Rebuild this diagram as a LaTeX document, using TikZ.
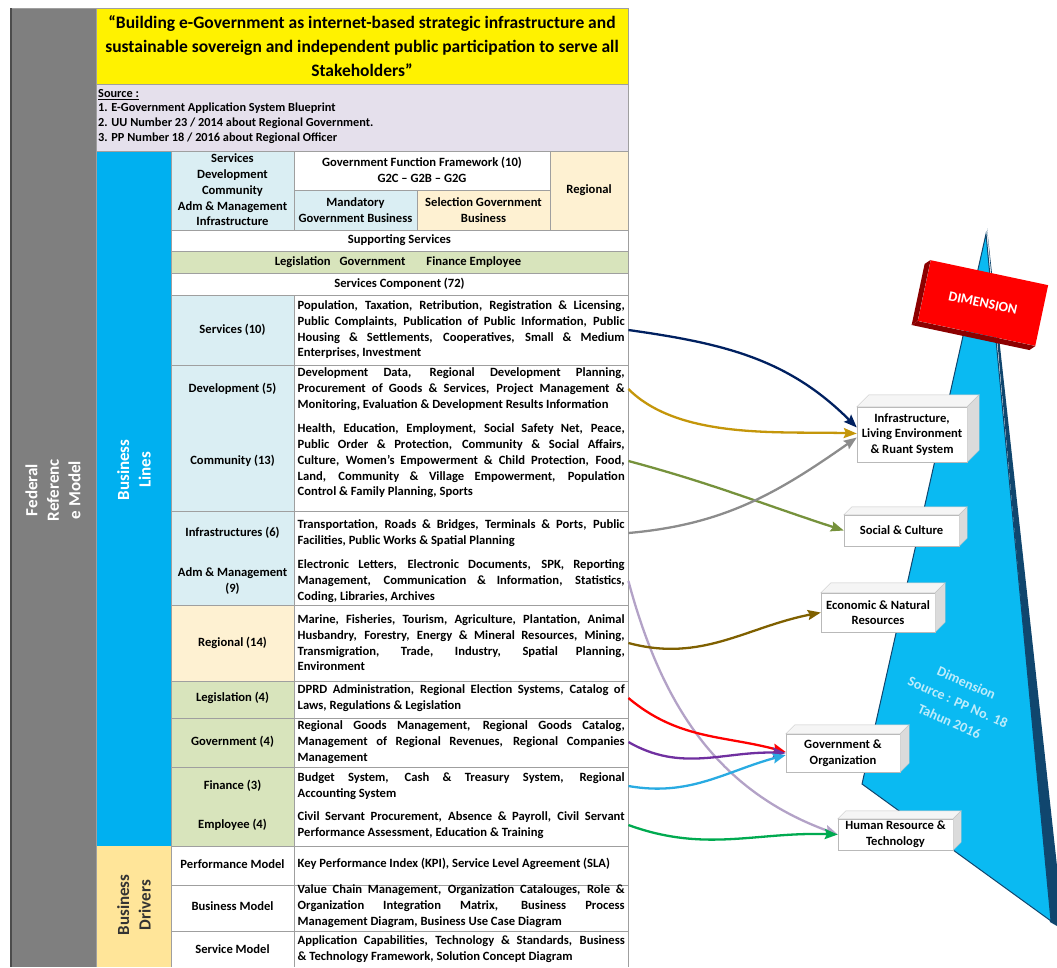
\documentclass[tikz,border=0pt]{standalone}
\usepackage{fontspec}
\setmainfont{Carlito}
\usetikzlibrary{positioning, arrows.meta}
\definecolor{frmgray}{RGB}{127,127,127}
\definecolor{lineblue}{RGB}{0,176,240}
\definecolor{drvgold}{RGB}{255,229,153}
\definecolor{cellblue}{RGB}{218,238,243}
\definecolor{cellcream}{RGB}{254,241,210}
\definecolor{cellgreen}{RGB}{216,228,188}
\definecolor{srclav}{RGB}{229,224,236}
\definecolor{pyrblue}{RGB}{10,186,242}
\definecolor{pyrdark}{RGB}{16,70,110}
\definecolor{pyrtext}{RGB}{190,236,251}
\definecolor{dimdark}{RGB}{140,0,0}
\definecolor{cnavy}{RGB}{0,32,96}
\definecolor{cgold}{RGB}{196,150,10}
\definecolor{colive}{RGB}{118,146,60}
\definecolor{cgray}{RGB}{140,140,140}
\definecolor{clav}{RGB}{179,162,199}
\definecolor{cbrown}{RGB}{127,96,0}
\definecolor{cpurple}{RGB}{112,48,160}
\definecolor{cblue}{RGB}{41,171,226}
\definecolor{cgreen}{RGB}{0,170,80}
\hyphenpenalty=10000
\exhyphenpenalty=10000
\newcommand{\tblfont}{\bfseries\fontsize{12.6}{15.7}\selectfont}
\newcommand{\boxsides}[2]{%
  \filldraw[fill=gray!8, draw=gray!45] (#1.north west) -- ++(#2,#2) -- ([shift={(#2,#2)}]#1.north east) -- (#1.north east) -- cycle;
  \filldraw[fill=gray!28, draw=gray!45] (#1.north east) -- ++(#2,#2) -- ([shift={(#2,#2)}]#1.south east) -- (#1.south east) -- cycle;
}
\tikzset{>={Stealth[length=13pt, width=10pt, inset=2pt]},
  lbl/.style={font=\tblfont, align=center, inner sep=0pt},
  txt/.style={font=\tblfont, text width=327pt, align=justify, inner xsep=3.5pt, inner ysep=0pt, anchor=west},
  side/.style={font=\bfseries\fontsize{17}{21.5}\selectfont, text=white, align=center, rotate=90},
  dimbox/.style={draw=gray!55, fill=white, font=\tblfont, align=center, inner sep=1pt},
  grid/.style={draw=gray!75, line width=0.7pt},
  conn/.style={->, line width=2.3pt},
}

\begin{document}
\begin{tikzpicture}[x=1pt, y=1pt]
\useasboundingbox (0,0) rectangle (1057,-967);
    % table backgrounds
    \fill[frmgray] (10,-8) rectangle (96,-967);
    \fill[yellow] (96,-8) rectangle (628,-84);
    \fill[srclav] (96,-84) rectangle (628,-151);
    \fill[lineblue] (96,-151) rectangle (171,-846);
    \fill[drvgold] (96,-846) rectangle (171,-967);
    \fill[cellblue] (171,-151) rectangle (294,-230);
    \fill[cellblue] (294,-190) rectangle (417,-230);
    \fill[cellcream] (417,-190) rectangle (550,-230);
    \fill[cellcream] (550,-151) rectangle (628,-230);
    \fill[cellgreen] (171,-251) rectangle (628,-273);
    \fill[cellblue] (171,-295) rectangle (294,-605);
    \fill[cellcream] (171,-605) rectangle (294,-681);
    \fill[cellgreen] (171,-681) rectangle (294,-846);
    \draw[grid]
    (96,-84) -- (628,-84) (96,-151) -- (628,-151)
    (294,-190) -- (550,-190)
    (171,-230) -- (628,-230) (171,-251) -- (628,-251) (171,-273) -- (628,-273)
    (171,-295) -- (628,-295) (171,-365) -- (628,-365) (171,-511) -- (628,-511)
    (171,-605) -- (628,-605) (171,-681) -- (628,-681) (171,-718) -- (628,-718)
    (171,-767) -- (628,-767) (171,-846) -- (628,-846) (171,-885) -- (628,-885)
    (171,-931) -- (628,-931)
    (171,-151) -- (171,-967) (294,-151) -- (294,-230) (294,-295) -- (294,-967)
    (417,-190) -- (417,-230) (550,-151) -- (550,-230)
    (628,-8) -- (628,-967) (10,-8) -- (628,-8) (96,-8) -- (96,-967);
    \draw[black!70, line width=1.5pt] (11,-8) -- (11,-967);

    % title and source
    \node[font=\bfseries\fontsize{17.5}{24}\selectfont, align=center] (title) at (362,-46)
      {``Building e-Government as internet-based strategic infrastructure and\\
       sustainable sovereign and independent public participation to serve all\\
       Stakeholders''};
    \node[font=\bfseries\fontsize{12.3}{14.6}\selectfont, align=left, anchor=north west, inner sep=2pt] (source) at (96,-87)
      {\underline{Source :}\\
       1. E-Government Application System Blueprint\\
       2. UU Number 23 / 2014 about Regional Government.\\
       3. PP Number 18 / 2016 about Regional Officer};

    % side labels
    \node[side] (frm) at (53,-490) {Federal\\Referenc\\e Model};
    \node[side] (blines) at (134,-470) {Business\\Lines};
    \node[side, text=black!80] (bdrivers) at (134,-905) {Business\\Drivers};

    % header
    \node[lbl] (hdrlist) at (232.5,-190) {Services\\Development\\Community\\Adm \& Management\\Infrastructure};
    \node[lbl] (gff) at (422,-170) {Government Function Framework (10)\\[1pt]G2C -- G2B -- G2G};
    \node[lbl] (mandatory) at (355.5,-210) {Mandatory\\Government Business};
    \node[lbl] (selection) at (483.5,-210) {Selection Government\\Business};
    \node[lbl] (regionalhdr) at (589,-190) {Regional};
    \node[lbl] (support) at (399.5,-240.5) {Supporting Services};
    \node[lbl] (groups) at (398,-262) {Legislation\hspace{9pt}Government\hspace{21pt}Finance\hspace{3pt}Employee};
    \node[lbl] (component) at (399.5,-284) {Services Component (72)};

    % business lines
    \node[lbl] (serv) at (232.5,-330) {Services (10)};
    \node[lbl] (dev) at (232.5,-389) {Development (5)};
    \node[lbl] (comm) at (232.5,-461) {Community (13)};
    \node[lbl] (infr) at (232.5,-533) {Infrastructures (6)};
    \node[lbl] (adm) at (232.5,-581) {Adm \& Management\\(9)};
    \node[lbl] (reg) at (232.5,-643) {Regional (14)};
    \node[lbl] (leg) at (232.5,-698) {Legislation (4)};
    \node[lbl] (gov) at (232.5,-742) {Government (4)};
    \node[lbl] (fin) at (232.5,-786) {Finance (3)};
    \node[lbl] (emp) at (232.5,-825) {Employee (4)};
    \node[lbl] (perf) at (232.5,-864) {Performance Model};
    \node[lbl] (bus) at (232.5,-906) {Business Model};
    \node[lbl] (svc) at (232.5,-949) {Service Model};

    \node[txt] (servtxt) at (294,-330) {Population, Taxation, Retribution, Registration \& Licensing,\linebreak
      Public Complaints, Publication of Public Information, Public\linebreak
      Housing \& Settlements, Cooperatives, Small \& Medium\linebreak
      Enterprises, Investment};
    \node[txt] (devtxt) at (294,-389) {Development Data, Regional Development Planning,\linebreak
      Procurement of Goods \& Services, Project Management \&\linebreak
      Monitoring, Evaluation \& Development Results Information};
    \node[txt] (commtxt) at (294,-461) {Health, Education, Employment, Social Safety Net, Peace,\linebreak
      Public Order \& Protection, Community \& Social Affairs,\linebreak
      Culture, Women's Empowerment \& Child Protection, Food,\linebreak
      Land, Community \& Village Empowerment, Population\linebreak
      Control \& Family Planning, Sports};
    \node[txt] (infrtxt) at (294,-533) {Transportation, Roads \& Bridges, Terminals \& Ports, Public\linebreak
      Facilities, Public Works \& Spatial Planning};
    \node[txt] (admtxt) at (294,-581) {Electronic Letters, Electronic Documents, SPK, Reporting\linebreak
      Management, Communication \& Information, Statistics,\linebreak
      Coding, Libraries, Archives};
    \node[txt] (regtxt) at (294,-643) {Marine, Fisheries, Tourism, Agriculture, Plantation, Animal\linebreak
      Husbandry, Forestry, Energy \& Mineral Resources, Mining,\linebreak
      Transmigration, Trade, Industry, Spatial Planning,\linebreak
      Environment};
    \node[txt] (legtxt) at (294,-698) {DPRD Administration, Regional Election Systems, Catalog of\linebreak
      Laws, Regulations \& Legislation};
    \node[txt] (govtxt) at (294,-742) {Regional Goods Management, Regional Goods Catalog,\linebreak
      Management of Regional Revenues, Regional Companies\linebreak
      Management};
    \node[txt] (fintxt) at (294,-786) {Budget System, Cash \& Treasury System, Regional\linebreak
      Accounting System};
    \node[txt] (emptxt) at (294,-825) {Civil Servant Procurement, Absence \& Payroll, Civil Servant\linebreak
      Performance Assessment, Education \& Training};
    \node[txt] (perftxt) at (294,-864) {Key Performance Index (KPI), Service Level Agreement (SLA)};
    \node[txt] (bustxt) at (294,-906) {Value Chain Management, Organization Catalouges, Role \&\linebreak
      Organization Integration Matrix, Business Process\linebreak
      Management Diagram, Business Use Case Diagram};
    \node[txt] (svctxt) at (294,-949) {Application Capabilities, Technology \& Standards, Business\linebreak
      \& Technology Framework, Solution Concept Diagram};

    % dimension pyramid
    \fill[pyrdark] (987,-228) -- (1057,-866) -- (1057,-926) -- (1050,-922) -- cycle;
    \filldraw[fill=pyrblue, draw=pyrdark, line width=1pt] (986,-234) -- (862,-784) -- (1051,-921) -- cycle;
    \node[fill=red, text=white, font=\bfseries\fontsize{14}{16}\selectfont, rotate=-12,
      minimum width=120, minimum height=62] (dim) at (983,-303) {DIMENSION};
    \fill[dimdark] (dim.north west) -- (dim.south west) -- ++(-6,-4) -- ([shift={(-6,-4)}]dim.north west) -- cycle;
    \fill[dimdark] (dim.south west) -- (dim.south east) -- ++(-6,-4) -- ([shift={(-6,-4)}]dim.south west) -- cycle;
    \node[font=\bfseries\fontsize{14}{21}\selectfont, text=pyrtext, rotate=-24, align=center] (dimsrc) at (958,-702)
      {Dimension\\Source : PP No. 18\\Tahun 2016};

    \node[dimbox, minimum width=110, minimum height=55] (infra) at (912,-434.5) {Infrastructure,\\Living Environment\\\& Ruant System};
    \node[dimbox, minimum width=115, minimum height=31] (social) at (901.5,-530.5) {Social \& Culture};
    \node[dimbox, minimum width=114, minimum height=39] (econ) at (878,-612.5) {Economic \& Natural\\Resources};
    \node[dimbox, minimum width=114, minimum height=38] (govorg) at (843,-753) {Government \&\\Organization};
    \node[dimbox, minimum width=115, minimum height=31] (hr) at (895.5,-834.5) {Human Resource \&\\Technology};
    \boxsides{infra}{12}
    \boxsides{social}{8}
    \boxsides{econ}{10}
    \boxsides{govorg}{9}
    \boxsides{hr}{8}

    \draw
    (servtxt.east) edge[conn, cnavy, out=-8, in=135] ([yshift=7]infra.west)
    (devtxt.east) edge[conn, cgold, out=-45, in=178, looseness=0.8] ([yshift=1]infra.west)
    (commtxt.east) edge[conn, colive, out=-15, in=162] (social.west)
    (infrtxt.east) edge[conn, cgray, out=5, in=-145] ([yshift=-3]infra.west)
    (admtxt.east) edge[conn, clav, out=-75, in=160] (hr.west)
    (regtxt.east) edge[conn, cbrown, out=-15, in=191] (econ.west)
    (legtxt.east) edge[conn, red, out=-40, in=165] ([yshift=1]govorg.west)
    (govtxt.east) edge[conn, cpurple, out=-30, in=178] (govorg.west)
    (fintxt.east) edge[conn, cblue, out=-10, in=195] ([yshift=-2]govorg.west)
    (emptxt.east) edge[conn, cgreen, out=-20, in=178] (hr.west)
    ;
\end{tikzpicture}
\end{document}
